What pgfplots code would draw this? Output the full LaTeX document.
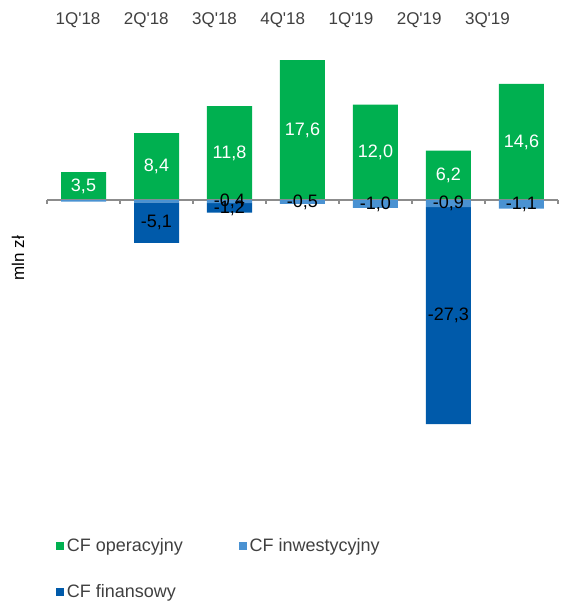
\documentclass[border=0pt]{standalone}
\usepackage{pgfplots}
\usepackage{pgfplotstable}
\usepackage{fontspec}
\setmainfont{Liberation Sans}
\pgfplotsset{compat=1.18}

\definecolor{cfop}{HTML}{00B050}
\definecolor{cfinw}{HTML}{4A92D2}
\definecolor{cffin}{HTML}{005AAA}
\definecolor{axisgray}{HTML}{8C8C8C}
\definecolor{textgray}{HTML}{404040}

% kwartalne przeplywy pieniezne, mln zl
\pgfplotstableread{
x op   oplab   inw  inwlab fin   finlab
0 3.5  {3,5}   -0.2 {}     0     {}
1 8.4  {8,4}   -0.3 {}     -5.1  {-5,1}
2 11.8 {11,8}  -0.4 {-0,4} -1.2  {-1,2}
3 17.6 {17,6}  -0.5 {-0,5} 0     {}
4 12.0 {12,0}  -1.0 {-1,0} 0     {}
5 6.2  {6,2}   -0.9 {-0,9} -27.3 {-27,3}
6 14.6 {14,6}  -1.1 {-1,1} 0     {}
}\cfdata

\newcommand{\lblfont}{\fontsize{13.5}{16}\selectfont}
\newcommand{\catfont}{\fontsize{12.75}{15}\selectfont}

\pgfplotsset{
  cfframe/.style={
    at={(35.25pt,86.85pt)}, anchor=south west,
    scale only axis, width=383.25pt, height=333.9pt,
    xmin=-0.5, xmax=6.5, ymin=-36, ymax=20,
  },
  % ybar stacked sam centruje etykiete w segmencie
  cflabels/.style={nodes near coords, point meta=explicit symbolic,
    nodes near coords style={font=\lblfont, anchor=center}},
}

\begin{document}
\begin{tikzpicture}
\useasboundingbox (0pt,0pt) rectangle (420pt,451.5pt);

% dodatnie przeplywy operacyjne
\begin{axis}[
  cfframe, hide axis, clip=false,
  ybar stacked, bar width=33.75pt,
]
\addplot[fill=cfop, draw=none, cflabels,
  every node near coord/.append style={text=white}]
  table[x=x, y=op, meta=oplab] {\cfdata};
\end{axis}

% ujemne przeplywy (skumulowane) + os zerowa + legenda
\begin{axis}[
  cfframe,
  ybar stacked, bar width=33.75pt,
  axis x line=middle, axis y line=none,
  x axis line style={draw=axisgray, line width=1pt, -},
  xtick={-0.5,0.5,...,6.5}, xticklabels={},
  xtick align=outside, major tick length=3pt,
  xtick style={draw=axisgray, line width=1pt},
  clip=false,
  legend image code/.code={\fill[#1] (0pt,-3pt) rectangle (6pt,3pt);},
  legend columns=2, legend cell align=left,
  legend style={at={(axis description cs:0.0176,-0.1119)}, anchor=north west,
    draw=none, fill=none, inner sep=0pt, font=\lblfont, text=textgray,
    row sep=19pt, /tikz/every even column/.append style={column sep=40pt}},
]
\addlegendimage{fill=cfop, draw=none}
\addlegendentry{CF operacyjny}
\addplot[fill=cfinw, draw=none, cflabels,
  every node near coord/.append style={text=black}]
  table[x=x, y=inw, meta=inwlab] {\cfdata};
\addlegendentry{CF inwestycyjny}
\addplot[fill=cffin, draw=none, cflabels,
  every node near coord/.append style={text=black}]
  table[x=x, y=fin, meta=finlab] {\cfdata};
\addlegendentry{CF finansowy}
\end{axis}

% opisy kategorii (gorna os ma wezszy rozstaw) i osi
\begin{axis}[
  cfframe,
  axis line style={draw=none},
  ytick=\empty, xtick={-0.075,0.86,1.795,2.729,3.664,4.599,5.534},
  xticklabels={1Q\textquotesingle18,2Q\textquotesingle18,3Q\textquotesingle18,4Q\textquotesingle18,1Q\textquotesingle19,2Q\textquotesingle19,3Q\textquotesingle19},
  xticklabel pos=upper, major tick length=0pt,
  xticklabel style={font=\catfont, text=textgray, anchor=base, yshift=12.4pt},
  ylabel={mln zł},
  ylabel style={at={(axis description cs:-0.0568,0.5126)}, anchor=center,
    font=\catfont, text=black},
]
\end{axis}
\end{tikzpicture}
\end{document}
